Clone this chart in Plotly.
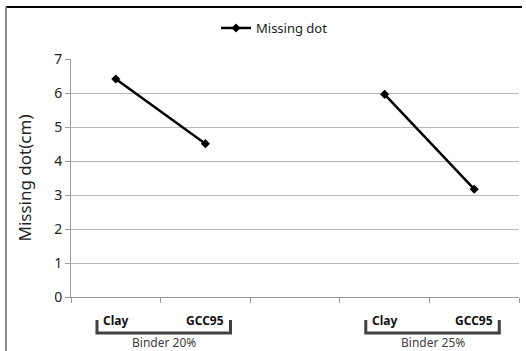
import plotly.graph_objects as go

categories = ["Clay", "GCC95", "", "Clay", "GCC95"]
values = [6.41, 4.51, None, 5.96, 3.17]
groups = ["Binder 20%", "Binder 25%"]
group_members = [(0, 1), (3, 4)]
y_ticks = [0, 1, 2, 3, 4, 5, 6, 7]
series_name = "Missing dot"
y_title = "Missing dot(cm)"

W, H = 526, 351
L, R, T, B = 71, 7, 59, 54
PW, PH = W - L - R, H - T - B

def px_x(px):
    return (px - L) / PW

def px_y(py):
    return (H - B - py) / PH

x_idx = list(range(len(categories)))

fig = go.Figure()
fig.add_trace(go.Scatter(
    x=x_idx, y=values, mode="lines+markers", name=series_name,
    line=dict(color="black", width=2.5),
    marker=dict(symbol="diamond", size=7, color="black"),
    connectgaps=False,
))

shapes = []
annotations = []
# category labels
for i, c in enumerate(categories):
    if c:
        annotations.append(dict(x=i, y=px_y(320), xref="x", yref="paper", text=f"<b>{c}</b>",
                                showarrow=False, yanchor="middle",
                                font=dict(family="Noto Sans", size=12, color="#111")))
# group brackets and labels
for g, (a, b) in zip(groups, group_members):
    x1, x2 = a - 0.21, b + 0.28
    y1, y2 = px_y(320), px_y(333)
    shapes.append(dict(type="path", xref="x", yref="paper",
                       path=f"M {x1},{y1} L {x1},{y2} L {x2},{y2} L {x2},{y1}",
                       line=dict(color="#404040", width=3)))
    annotations.append(dict(x=(a + b) / 2 + 0.035, y=px_y(342), xref="x", yref="paper", text=g,
                            showarrow=False, yanchor="middle",
                            font=dict(family="Noto Sans", size=12, color="#404040")))
# outer border lines
shapes.append(dict(type="line", xref="paper", yref="paper", x0=px_x(6), x1=px_x(522),
                   y0=px_y(7), y1=px_y(7), line=dict(color="black", width=2)))
shapes.append(dict(type="line", xref="paper", yref="paper", x0=px_x(6), x1=px_x(6),
                   y0=px_y(7), y1=px_y(351), line=dict(color="#888888", width=2)))

fig.update_layout(
    width=W, height=H, margin=dict(l=L, r=R, t=T, b=B),
    plot_bgcolor="white", paper_bgcolor="white",
    font=dict(family="Noto Sans", color="#222"),
    showlegend=True,
    legend=dict(orientation="h", x=px_x(216), xanchor="left", y=px_y(28), yanchor="middle",
                font=dict(size=13, color="#222"), bgcolor="rgba(0,0,0,0)"),
    shapes=shapes, annotations=annotations,
    xaxis=dict(range=[-0.5, len(categories) - 0.5],
               tickvals=[i - 0.5 for i in range(len(categories) + 1)],
               ticktext=[""] * (len(categories) + 1),
               ticks="outside", ticklen=5, tickcolor="#999", showgrid=False,
               showline=True, linecolor="#999", linewidth=1, zeroline=False, fixedrange=True),
    yaxis=dict(range=[0, 7], tickvals=y_ticks, ticks="outside", ticklen=5, tickcolor="#999",
               showgrid=True, gridcolor="#b8b8b8", gridwidth=1,
               showline=True, linecolor="#999", linewidth=1, zeroline=False,
               tickfont=dict(size=14, color="#222"),
               title=dict(text=y_title, font=dict(size=17, color="#222"), standoff=18)),
)

fig.write_html("out.html")
